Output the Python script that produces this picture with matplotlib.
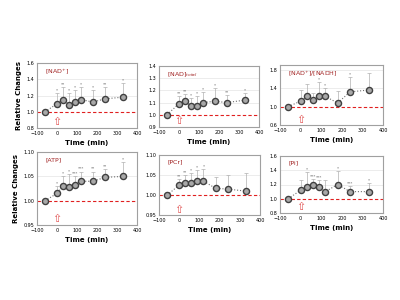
import numpy as np
import matplotlib
matplotlib.use('Agg')
import matplotlib.pyplot as plt

times = [-60, 0, 30, 60, 90, 120, 180, 240, 330]

nad_vals = [1.0, 1.10, 1.15, 1.09, 1.12, 1.15, 1.12, 1.16, 1.18]
nad_up = [None, 1.23, 1.30, 1.23, 1.27, 1.30, 1.27, 1.30, 1.35]
nad_sig = ['', '*', '**', '*', '*', '*', '*', '**', '*']

nadt_vals = [1.0, 1.09, 1.11, 1.07, 1.07, 1.10, 1.11, 1.10, 1.12]
nadt_up = [None, 1.15, 1.17, 1.14, 1.15, 1.19, 1.22, 1.16, 1.18]
nadt_sig = ['', '**', '**', '*', '*', '*', '*', '**', '*']

ratio_vals = [1.0, 1.12, 1.22, 1.14, 1.22, 1.22, 1.08, 1.32, 1.36]
ratio_up = [None, 1.37, 1.50, 1.29, 1.54, 1.40, 1.34, 1.64, 1.72]
ratio_sig = ['', '', '', '', '*', '*', '', '*', '']

atp_vals = [1.0, 1.015, 1.030, 1.028, 1.033, 1.040, 1.040, 1.048, 1.050]
atp_up = [None, 1.030, 1.050, 1.055, 1.050, 1.060, 1.060, 1.065, 1.080]
atp_sig = ['', '*', '*', '*', '***', '***', '**', '**', '*']

pcr_vals = [1.0, 1.025, 1.031, 1.030, 1.036, 1.035, 1.017, 1.015, 1.010]
pcr_up = [None, 1.040, 1.050, 1.055, 1.062, 1.065, 1.045, 1.050, 1.055]
pcr_sig = ['', '**', '**', '*', '*', '*', '', '', '']

pi_vals = [1.0, 1.12, 1.16, 1.20, 1.17, 1.10, 1.20, 1.10, 1.10]
pi_up = [None, 1.27, 1.38, 1.28, 1.27, 1.26, 1.39, 1.18, 1.22]
pi_sig = ['', '', '*', '***', '***', '', '*', '***', '*']

panels = [
    # label, vals, upper, stars, ylim, yticks, rect, ylabel, fmt
    ('[NAD$^{+}$]', nad_vals, nad_up, nad_sig, (0.8, 1.6), [0.8, 1.0, 1.2, 1.4, 1.6],
     [0.0925, 0.573, 0.25, 0.217], True, '%.1f'),
    ('[NAD]$_{total}$', nadt_vals, nadt_up, nadt_sig, (0.9, 1.4), [0.9, 1.0, 1.1, 1.2, 1.3, 1.4],
     [0.3975, 0.577, 0.25, 0.203], False, '%.1f'),
    ('[NAD$^{+}$]/[NADH]', ratio_vals, ratio_up, ratio_sig, (0.6, 1.9), [0.6, 1.0, 1.4, 1.8],
     [0.70, 0.583, 0.2575, 0.20], False, '%.1f'),
    ('[ATP]', atp_vals, atp_up, atp_sig, (0.95, 1.10), [0.95, 1.00, 1.05, 1.10],
     [0.0925, 0.25, 0.25, 0.243], True, '%.2f'),
    ('[PCr]', pcr_vals, pcr_up, pcr_sig, (0.95, 1.10), [0.95, 1.00, 1.05, 1.10],
     [0.3975, 0.283, 0.2525, 0.20], False, '%.2f'),
    ('[Pi]', pi_vals, pi_up, pi_sig, (0.8, 1.6), [0.8, 1.0, 1.2, 1.4, 1.6],
     [0.70, 0.29, 0.2575, 0.19], False, '%.1f'),
]

fig = plt.figure(figsize=(4, 3), dpi=100)
fig.patch.set_facecolor('white')

for label, vals, up, sig, ylim, yticks, rect, ylab, fmt in panels:
    ax = fig.add_axes(rect)
    t = np.array(times, dtype=float)
    v = np.array(vals)
    u = np.array([x if x is not None else y for x, y in zip(up, vals)])
    span = ylim[1] - ylim[0]

    ax.axhline(1.0, color='#e02020', linestyle=(0, (3, 2)), linewidth=0.8, zorder=1)
    for yt in yticks[1:]:
        if yt != 1.0:
            ax.axhline(yt, color='#dddddd', linewidth=0.4, zorder=0)

    ax.errorbar(t, v, yerr=[np.zeros_like(v), u - v], fmt='none', ecolor='#b0b0b0',
                elinewidth=0.5, capsize=1.2, capthick=0.5, zorder=2)
    ax.plot(t, v, linestyle=':', color='#707070', linewidth=0.8, marker='o',
            markersize=4.4, markerfacecolor='#a8a8a8', markeredgecolor='#404040',
            markeredgewidth=1.0, zorder=3)
    for ti, ui, s in zip(t, u, sig):
        if s:
            ax.text(ti, ui + span * 0.01, s, ha='center', va='bottom', fontsize=3,
                    color='#555555')

    # hollow red arrow at time 0
    ax.text(0, ylim[0] + span * 0.01, '\u21e7', ha='center', va='bottom', fontsize=8,
            color='#e05050', transform=ax.transData)

    ax.text(0.08, 0.93, label, transform=ax.transAxes, fontsize=4.5, color='#a02020',
            ha='left', va='top')

    ax.set_xlim(-100, 400)
    ax.set_xticks([-100, 0, 100, 200, 300, 400])
    ax.set_ylim(*ylim)
    ax.set_yticks(yticks)
    ax.set_yticklabels([fmt % y for y in yticks])
    ax.tick_params(labelsize=3.5, length=0, pad=2)
    for sp in ax.spines.values():
        sp.set_color('#a0a0a0')
        sp.set_linewidth(0.8)
    ax.set_xlabel('Time (min)', fontsize=5, fontweight='bold', labelpad=3)
    if ylab:
        ax.set_ylabel('Relative Changes', fontsize=5, fontweight='bold', labelpad=3)

plt.savefig('out.png', dpi=100)
